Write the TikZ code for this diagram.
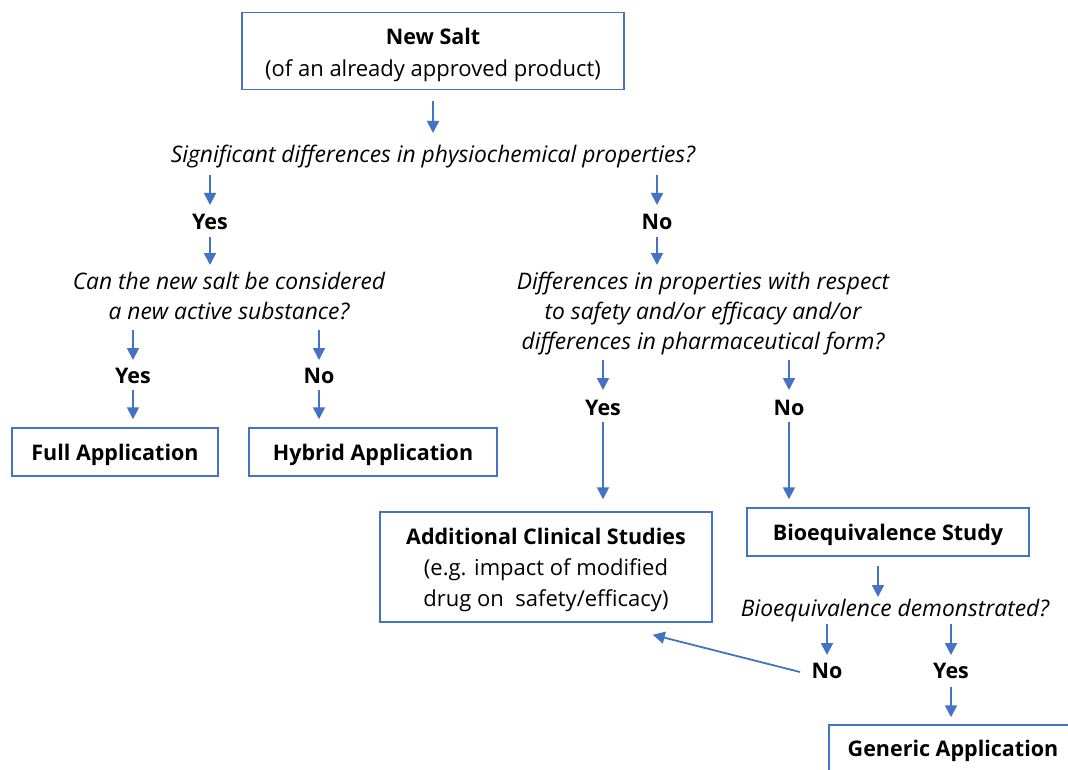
\documentclass[tikz,border=0pt]{standalone}
\usepackage{fontspec}
\setmainfont{Open Sans}
\usetikzlibrary{calc,arrows.meta}
\definecolor{obl}{HTML}{4472C4}
\newcommand{\mystrut}[1]{\rule{0pt}{#1}}
\tikzset{
  box/.style={draw=obl, line width=1.5pt, fill=white, align=center, inner sep=0pt},
  bl/.style={font=\fontsize{21.5}{30}\selectfont\bfseries},
  lbl/.style={inner sep=0pt, font=\fontsize{21.5}{30}\selectfont\bfseries},
  qst/.style={align=center, inner sep=0pt, font=\fontsize{22.8}{30}\selectfont\itshape},
  arr/.style={draw=obl, line width=1.8pt, -{Triangle[width=12pt,length=12pt]}}
}
\begin{document}
\begin{tikzpicture}[x=1pt,y=-1pt]
\useasboundingbox (0,0) rectangle (1068,770);
\clip (0,0) rectangle (1068,770);
% boxes
\node[box, minimum width=382pt, minimum height=77pt, font=\fontsize{22}{32}\selectfont] (newsalt) at (433,51) {\mystrut{23.5pt}{\fontsize{21.5}{32}\selectfont\bfseries New Salt}\\(of an already approved product)};
\node[box, bl, minimum width=206pt, minimum height=48pt] (full) at (115,452) {\mystrut{22.5pt}Full Application};
\node[box, bl, minimum width=248pt, minimum height=48pt] (hybrid) at (373,452) {\mystrut{22.5pt}Hybrid Application};
\node[box, minimum width=332pt, minimum height=110pt, font=\fontsize{22}{31}\selectfont] (addl) at (546,567) {\mystrut{21.5pt}{\fontsize{21.5}{31}\selectfont\bfseries Additional Clinical Studies}\\(e.g. impact of modified\\drug on\ \ safety/efficacy)};
\node[box, bl, minimum width=282pt, minimum height=48pt] (bioeq) at (888,532) {\mystrut{22.5pt}Bioequivalence Study};
\node[box, bl, minimum width=248pt, minimum height=46pt] (generic) at (953,748) {\mystrut{22.5pt}Generic Application};
% questions
\node[qst] (q1) at (433,157) {Significant differences in physiochemical properties?};
\node[qst] (q2) at (229,296) {Can the new salt be considered\\a new active substance?};
\node[qst] (q3) at (703,314) {Differences in properties with respect\\to safety and/or efficacy and/or\\differences in pharmaceutical form?};
\node[qst] (q4) at (895,611) {Bioequivalence demonstrated?};
% labels
\node[lbl] (yes1) at (210,222) {Yes};
\node[lbl] (no1) at (657,222) {No};
\node[lbl] (yes2) at (133,376) {Yes};
\node[lbl] (no2) at (319,376) {No};
\node[lbl] (yes3) at (603,408) {Yes};
\node[lbl] (no3) at (789,408) {No};
\node[lbl] (no4) at (827,671) {No};
\node[lbl] (yes4) at (951,671) {Yes};
% arrows
\draw[arr] ($(newsalt.south)+(0,11)$) -- ($(q1.center)+(0,-24)$);
\draw[arr] ($(yes1 |- q1)+(0,18)$) -- ($(yes1)+(0,-17)$);
\draw[arr] ($(no1 |- q1)+(0,18)$) -- ($(no1)+(0,-17)$);
\draw[arr] ($(yes1)+(0,15)$) -- ($(yes1 |- q2)+(0,-31)$);
\draw[arr] ($(no1)+(0,15)$) -- ($(no1 |- q3)+(0,-49)$);
\draw[arr] ($(yes2 |- q2)+(0,34)$) -- ($(yes2)+(0,-16)$);
\draw[arr] ($(no2 |- q2)+(0,34)$) -- ($(no2)+(0,-16)$);
\draw[arr] ($(yes2)+(0,14)$) -- ($(yes2 |- full.north)+(0,-8)$);
\draw[arr] ($(no2)+(0,14)$) -- ($(no2 |- hybrid.north)+(0,-8)$);
\draw[arr] ($(yes3 |- q3)+(0,46)$) -- ($(yes3)+(0,-18)$);
\draw[arr] ($(no3 |- q3)+(0,46)$) -- ($(no3)+(0,-18)$);
\draw[arr] ($(yes3)+(0,14)$) -- ($(yes3 |- addl.north)+(0,-12)$);
\draw[arr] ($(no3)+(0,14)$) -- ($(no3 |- bioeq.north)+(0,-8)$);
\draw[arr] ($(bioeq.south -| 878,0)+(0,9)$) -- ($(q4.center -| 878,0)+(0,-14)$);
\draw[arr] ($(no4 |- q4)+(0,13)$) -- ($(no4)+(0,-16)$);
\draw[arr] ($(yes4 |- q4)+(0,13)$) -- ($(yes4)+(0,-16)$);
\draw[arr] ($(no4)+(-27,1)$) -- ($(addl.south east)+(-60,12)$);
\draw[arr] ($(yes4)+(0,16)$) -- ($(yes4 |- generic.north)+(0,-7)$);
\end{tikzpicture}
\end{document}
